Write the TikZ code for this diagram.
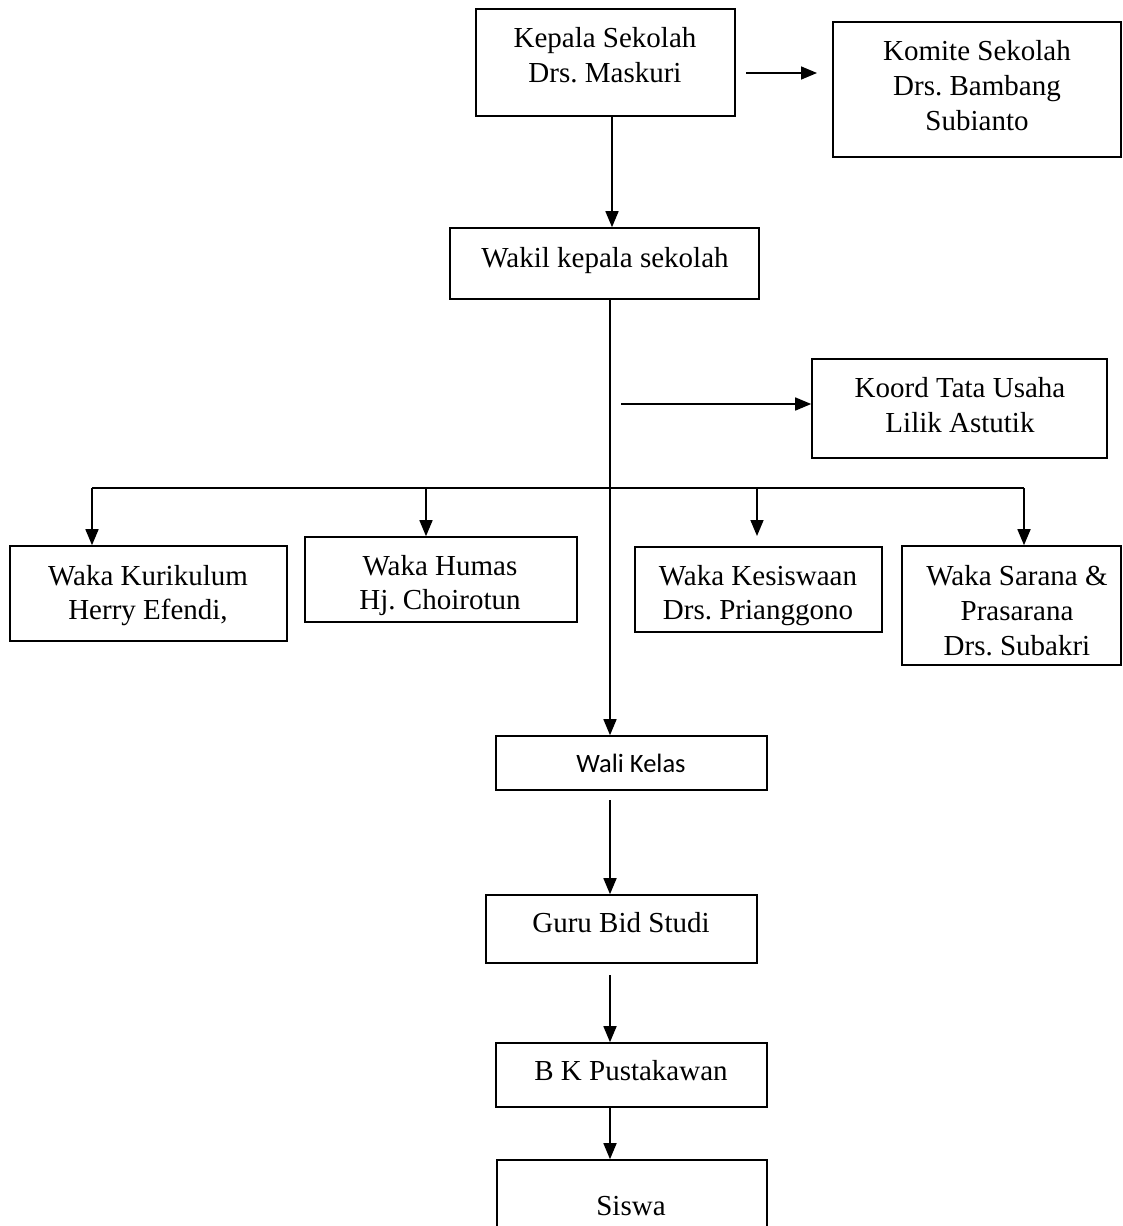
\documentclass[tikz,border=0pt]{standalone}
\usepackage{fontspec}
\setmainfont{Liberation Serif}
\newfontfamily\calibrifont{Carlito}
\usetikzlibrary{arrows.meta}
\frenchspacing
\begin{document}
\begin{tikzpicture}[x=1pt,y=-1pt,
  box/.style={draw, line width=1.6pt, inner sep=0pt, minimum width=#1},
  txt/.style={anchor=base, inner sep=0pt, font=\frenchspacing\fontsize{29}{35}\selectfont},
  stxt/.style={anchor=base, inner sep=0pt, font=\calibrifont\fontsize{26.5}{32}\selectfont},
  conn/.style={line width=1.6pt},
  arr/.style={line width=1.6pt, -{Triangle[length=16pt,width=13pt]}}]
\useasboundingbox (0,0) rectangle (1123,1226);
% boxes
\node[box=259pt, minimum height=107pt] (kepala) at (605.5,62.5) {};
\node[box=288pt, minimum height=135pt] (komite) at (977,89.5) {};
\node[box=309pt, minimum height=71pt] (wakil) at (604.5,263.5) {};
\node[box=295pt, minimum height=99pt] (koord) at (959.5,408.5) {};
\node[box=277pt, minimum height=95pt] (kurikulum) at (148.5,593.5) {};
\node[box=272pt, minimum height=85pt] (humas) at (441,579.5) {};
\node[box=247pt, minimum height=85pt] (kesiswaan) at (758.5,589.5) {};
\node[box=219pt, minimum height=119pt] (sarana) at (1011.5,605.5) {};
\node[box=271pt, minimum height=54pt] (wali) at (631.5,763) {};
\node[box=271pt, minimum height=68pt] (guru) at (621.5,929) {};
\node[box=271pt, minimum height=64pt] (bk) at (631.5,1075) {};
\node[box=270pt, minimum height=80pt] (siswa) at (632,1200) {};
% texts
\node[txt] (kepalaA) at (605,47) {Kepala Sekolah};
\node[txt] (kepalaB) at (605,82) {Drs. Maskuri};
\node[txt] (komiteA) at (977,60) {Komite Sekolah};
\node[txt] (komiteB) at (977,95) {Drs. Bambang};
\node[txt] (komiteC) at (977,130) {Subianto};
\node[txt] (wakilA) at (605,267) {Wakil kepala sekolah};
\node[txt] (koordA) at (960,397) {Koord Tata Usaha};
\node[txt] (koordB) at (960,432) {Lilik Astutik};
\node[txt] (kurA) at (148,585) {Waka Kurikulum};
\node[txt] (kurB) at (148,619) {Herry Efendi,};
\node[txt] (humA) at (440,575) {Waka Humas};
\node[txt] (humB) at (440,609) {Hj. Choirotun};
\node[txt] (kesA) at (758,585) {Waka Kesiswaan};
\node[txt] (kesB) at (758,619) {Drs. Prianggono};
\node[txt] (sarA) at (1017,585) {Waka Sarana \&};
\node[txt] (sarB) at (1017,620) {Prasarana};
\node[txt] (sarC) at (1017,655) {Drs. Subakri};
\node[stxt] (waliA) at (631,772) {Wali Kelas};
\node[txt] (guruA) at (621,932) {Guru Bid Studi};
\node[txt] (bkA) at (631,1080) {B K Pustakawan};
\node[txt] (siswaA) at (631,1215) {Siswa};
% helper coordinates
\coordinate (ka) at (746,73);
\coordinate (kb) at (817,73);
\coordinate (kx) at (612,0);
\coordinate (tx) at (610,0);
\coordinate (ta) at (621,404);
\coordinate (bl) at (92,488);
\coordinate (bh) at (426,488);
\coordinate (bs) at (757,488);
\coordinate (bse) at (757,536);
\coordinate (br) at (1024,488);
\coordinate (w1) at (610,800);
\coordinate (g1) at (610,975);
% connectors
\draw[arr] (ka) -- (kb);
\draw[arr] (kepala.south -| kx) -- (wakil.north -| kx);
\draw[arr] (wakil.south -| tx) -- (wali.north -| tx);
\draw[arr] (ta) -- (ta -| koord.west);
\draw[conn] (bl) -- (br);
\draw[arr] (bl) -- (kurikulum.north -| bl);
\draw[arr] (bh) -- (humas.north -| bh);
\draw[arr] (bs) -- (bse);
\draw[arr] (br) -- (sarana.north -| br);
\draw[arr] (w1) -- (guru.north -| w1);
\draw[arr] (g1) -- (bk.north -| g1);
\draw[arr] (bk.south -| tx) -- (siswa.north -| tx);
\end{tikzpicture}
\end{document}
